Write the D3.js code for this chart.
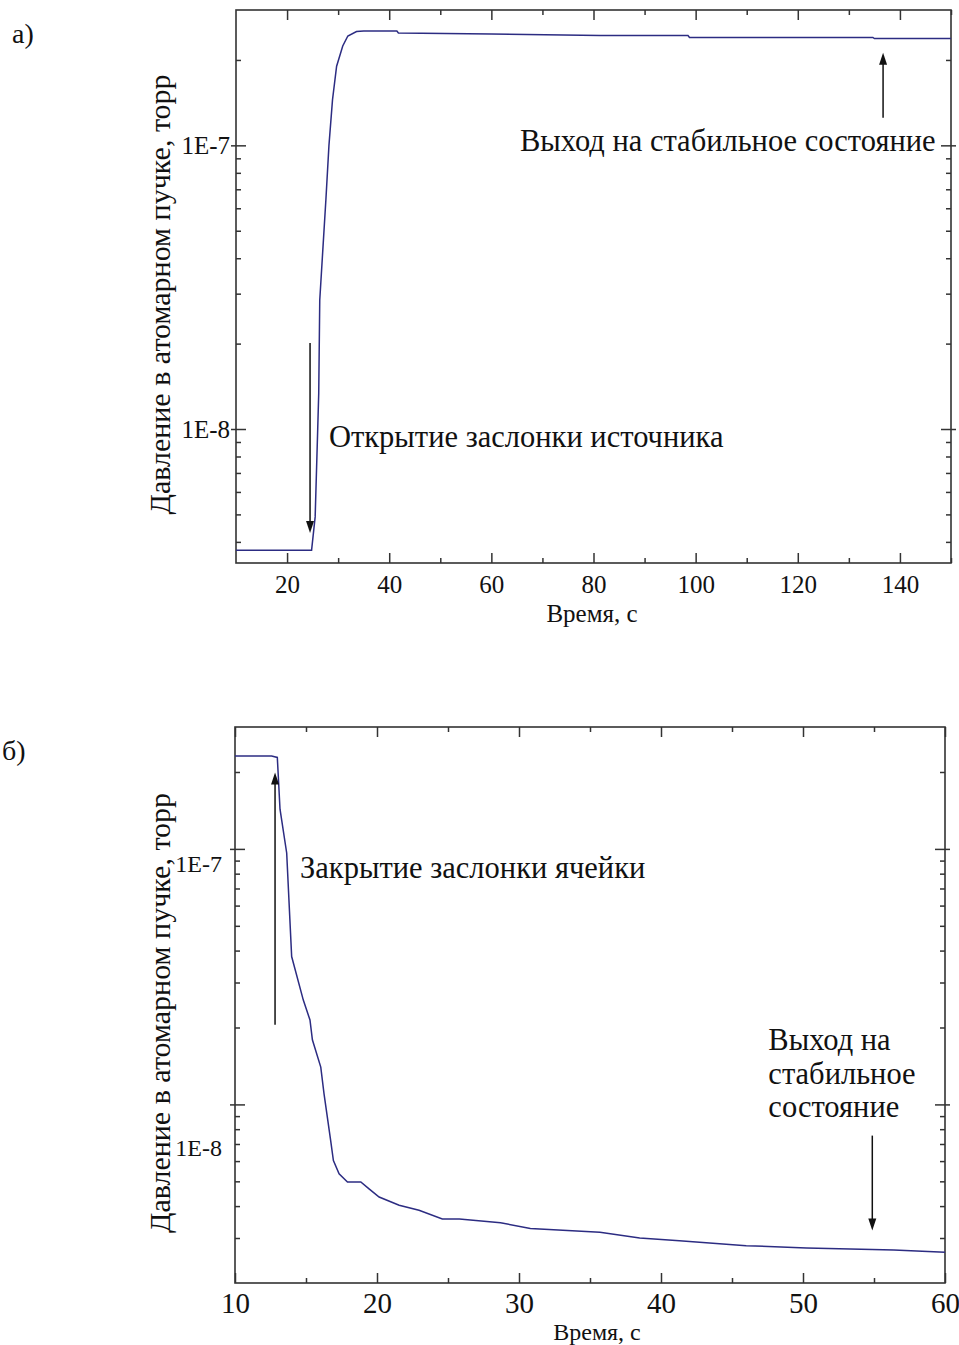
<!DOCTYPE html>
<html>
<head>
<meta charset="utf-8">
<script src="https://cdn.jsdelivr.net/npm/d3@7"></script>
<style>
    body { margin: 0; background: #fff; }
    svg text { font-family: "Liberation Serif", "Times New Roman", serif; fill: #111; }
</style>
</head>
<body>
<div id="chart"></div>
<script>
    // panel a) - opening the source shutter
    var timeA = [10, 24.8, 25.1, 25.5, 26.0, 26.2, 26.4, 27.6, 28.2, 28.9, 29.7, 30.9, 31.9, 33.6, 35, 41.5, 41.8, 60, 81.3, 98.5, 98.8, 134.7, 135, 150];
    var pressureA = [3.74e-9, 3.74e-9, 4.2e-9, 4.9e-9, 1.0e-8, 1.34e-8, 2.85e-8, 6.43e-8, 1.0e-7, 1.45e-7, 1.9e-7, 2.24e-7, 2.43e-7, 2.52e-7, 2.53e-7, 2.53e-7, 2.49e-7, 2.47e-7, 2.44e-7, 2.44e-7, 2.40e-7, 2.40e-7, 2.38e-7, 2.38e-7];
    var majorXA = [20, 40, 60, 80, 100, 120, 140];
    var minorXA = [30, 50, 70, 90, 110, 130, 150];
    var majorYA = [1e-8, 1e-7];
    var minorYA = [4e-9, 5e-9, 6e-9, 7e-9, 8e-9, 9e-9, 2e-8, 3e-8, 4e-8, 5e-8, 6e-8, 7e-8, 8e-8, 9e-8, 2e-7];

    // panel б) - closing the cell shutter
    var timeB = [10, 12.58, 12.98, 13.17, 13.64, 13.99, 14.81, 15.28, 15.45, 16.04, 16.27, 16.74, 16.93, 17.33, 17.92, 18.86, 19.44, 20.15, 21.56, 22.96, 24.6, 25.8, 28.7, 30.8, 35.7, 38.5, 41.3, 46.0, 50.25, 56.4, 60];
    var pressureB = [2.31e-7, 2.31e-7, 2.28e-7, 1.43e-7, 9.64e-8, 3.79e-8, 2.56e-8, 2.14e-8, 1.79e-8, 1.40e-8, 1.10e-8, 7.2e-9, 6.03e-9, 5.35e-9, 4.97e-9, 4.97e-9, 4.67e-9, 4.34e-9, 4.03e-9, 3.85e-9, 3.56e-9, 3.56e-9, 3.44e-9, 3.27e-9, 3.16e-9, 3.0e-9, 2.93e-9, 2.80e-9, 2.74e-9, 2.69e-9, 2.64e-9];
    var majorXB = [10, 20, 30, 40, 50, 60];
    var minorXB = [15, 25, 35, 45, 55];
    var majorYB = [1e-8, 1e-7];
    var minorYB = [3e-9, 4e-9, 5e-9, 6e-9, 7e-9, 8e-9, 9e-9, 2e-8, 3e-8, 4e-8, 5e-8, 6e-8, 7e-8, 8e-8, 9e-8, 2e-7];

    var yTitle = "Давление в атомарном пучке, торр";
    var xTitle = "Время, с";
    var serif = "'Liberation Serif', 'Times New Roman', serif";

    var width = 959, height = 1345;
    var svg = d3.select("#chart").append("svg")
        .attr("width", width)
        .attr("height", height);

    var panels = [
        {
            tag: "а)", tagX: 12, tagY: 43,
            box: {left: 236, right: 951, top: 10, bottom: 563},
            xDomain: [10, 150], yDomain: [3.37e-9, 3.0e-7],
            time: timeA, pressure: pressureA,
            majorX: majorXA, minorX: minorXA, majorY: majorYA, minorY: minorYA,
            xFont: 25, xBaseline: 30, yFont: 25, yLabelShift: [0, 0], yLabelGap: 6,
            xTitleX: 592, xTitleY: 622, xTitleFont: 25, yTitleX: 170,
            noteFont: 30.5,
            arrows: [{x: 24.5, from: 2.01e-8, to: 4.3e-9}, {x: 136.7, from: 1.25e-7, to: 2.12e-7}],
            notes: [
                {x: 28.2, y: 8.66e-9, lines: ["Открытие заслонки источника"]},
                {x: 65.6, y: 9.53e-8, lines: ["Выход на стабильное состояние"]}
            ]
        },
        {
            tag: "б)", tagX: 2, tagY: 760,
            box: {left: 235, right: 945, top: 727, bottom: 1283},
            xDomain: [10, 60], yDomain: [2e-9, 3e-7],
            time: timeB, pressure: pressureB,
            majorX: majorXB, minorX: minorXB, majorY: majorYB, minorY: minorYB,
            xFont: 29, xBaseline: 30, yFont: 24, yLabelShift: [43, 15], yLabelGap: 13,
            xTitleX: 597, xTitleY: 1340, xTitleFont: 24, yTitleX: 170,
            noteFont: 30.5,
            arrows: [{x: 12.82, from: 2.05e-8, to: 1.99e-7}, {x: 54.88, from: 7.55e-9, to: 3.21e-9}],
            notes: [
                {x: 14.58, y: 7.69e-8, lines: ["Закрытие заслонки ячейки"]},
                {x: 47.56, y: 1.63e-8, lines: ["Выход на", "стабильное", "состояние"]}
            ]
        }
    ];

    panels.forEach(drawPanel);

    function drawPanel(p) {
        var b = p.box;
        var w = b.right - b.left, h = b.bottom - b.top;

        var x = d3.scaleLinear().domain(p.xDomain).range([0, w]);
        var y = d3.scaleLog().domain(p.yDomain).range([h, 0]);

        var g = svg.append("g").attr("transform", "translate(" + b.left + "," + b.top + ")");

        // panel letter
        svg.append("text")
            .attr("x", p.tagX).attr("y", p.tagY)
            .style("font-size", "28px")
            .text(p.tag);

        // ticks on all four sides, pointing inward
        function ticks(axis, vals, size, tf) {
            return axis.tickValues(vals).tickSize(size).tickFormat(tf || "");
        }
        var bottomG = g.append("g").attr("transform", "translate(0," + h + ")")
            .call(ticks(d3.axisBottom(x), p.majorX, -10, d3.format("d")));
        bottomG.selectAll(".tick text")
            .attr("font-family", serif)
            .style("font-size", p.xFont + "px").attr("fill", "#111")
            .attr("y", p.xBaseline).attr("dy", 0);
        bottomG.append("g").call(ticks(d3.axisBottom(x), p.minorX, -5));

        g.append("g").call(ticks(d3.axisTop(x), p.majorX, -10));
        g.append("g").call(ticks(d3.axisTop(x), p.minorX, -5));

        var leftG = g.append("g").call(ticks(d3.axisLeft(y), p.majorY, -10, function (d) {
            return "1E" + Math.round(Math.log10(d));
        }).tickPadding(p.yLabelGap));
        leftG.selectAll(".tick text")
            .attr("font-family", serif)
            .style("font-size", p.yFont + "px").attr("fill", "#111")
            .attr("dy", function (d, i) { return (p.yLabelShift[i] + 0.32 * p.yFont) + "px"; });
        // small outward stub on the major ticks
        leftG.append("g").call(ticks(d3.axisLeft(y), p.majorY, 5));
        g.append("g").call(ticks(d3.axisLeft(y), p.minorY, -5));

        var rightG = g.append("g").attr("transform", "translate(" + w + ",0)");
        rightG.call(ticks(d3.axisRight(y), p.majorY, -10));
        rightG.append("g").call(ticks(d3.axisRight(y), p.majorY, 5));
        rightG.append("g").call(ticks(d3.axisRight(y), p.minorY, -5));

        g.selectAll(".domain").remove();
        g.selectAll(".tick line").attr("stroke", "#333").attr("stroke-width", 1.5);

        // frame
        g.append("rect")
            .attr("width", w).attr("height", h)
            .attr("fill", "none").attr("stroke", "#333").attr("stroke-width", 1.6);

        // data line
        var pts = p.time.map(function (t, i) { return [t, p.pressure[i]]; });
        var line = d3.line()
            .x(function (d) { return x(d[0]); })
            .y(function (d) { return y(d[1]); });
        g.append("path")
            .datum(pts)
            .attr("d", line)
            .attr("fill", "none")
            .attr("stroke", "#2c2c82")
            .attr("stroke-width", 1.5);

        // arrows
        p.arrows.forEach(function (a) {
            var ax = x(a.x), y0 = y(a.from), y1 = y(a.to);
            var dir = y1 > y0 ? 1 : -1;
            g.append("line")
                .attr("x1", ax).attr("x2", ax)
                .attr("y1", y0).attr("y2", y1 - dir * 8)
                .attr("stroke", "#111").attr("stroke-width", 1.5);
            g.append("path")
                .attr("d", "M" + ax + "," + y1 + "L" + (ax - 4) + "," + (y1 - dir * 12) + "L" + (ax + 4) + "," + (y1 - dir * 12) + "Z")
                .attr("fill", "#111");
        });

        // annotations
        p.notes.forEach(function (n) {
            var t = g.append("text")
                .attr("x", x(n.x)).attr("y", y(n.y))
                .style("font-size", p.noteFont + "px");
            n.lines.forEach(function (s, i) {
                t.append("tspan")
                    .attr("x", x(n.x))
                    .attr("dy", i === 0 ? 0 : 33.5)
                    .text(s);
            });
        });

        // axis titles
        svg.append("text")
            .attr("x", p.xTitleX).attr("y", p.xTitleY)
            .attr("text-anchor", "middle")
            .style("font-size", p.xTitleFont + "px")
            .text(xTitle);

        svg.append("text")
            .attr("transform", "translate(" + p.yTitleX + "," + (b.top + h / 2 + 8) + ") rotate(-90)")
            .attr("text-anchor", "middle")
            .style("font-size", "30px")
            .text(yTitle);
    }
</script>
</body>
</html>
